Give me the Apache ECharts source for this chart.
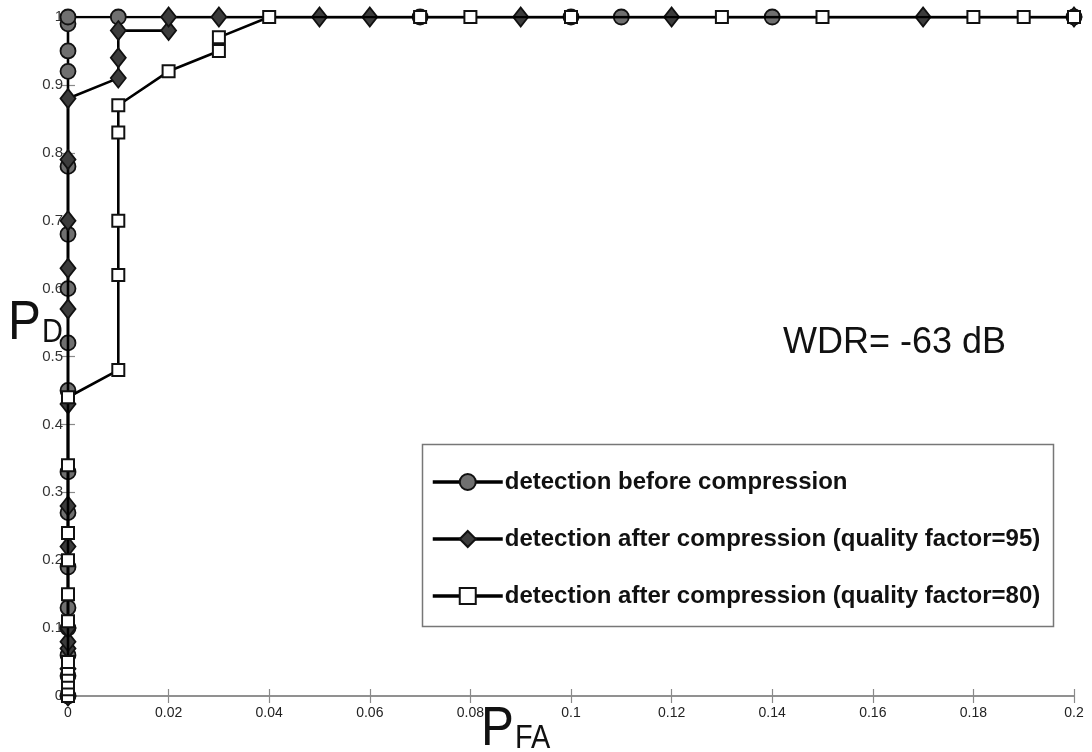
<!DOCTYPE html>
<html>
<head>
<meta charset="utf-8">
<script src="https://cdn.jsdelivr.net/npm/echarts@6/dist/echarts.min.js"></script>
<style>
html,body{margin:0;padding:0;background:#fff;}
#chart{width:1092px;height:752px;}
</style>
</head>
<body>
<div id="chart"></div>
<script>
const seriesNames = [
  'detection before compression',
  'detection after compression (quality factor=95)',
  'detection after compression (quality factor=80)'
];
const xTicks = [0, 0.02, 0.04, 0.06, 0.08, 0.1, 0.12, 0.14, 0.16, 0.18, 0.2];

const beforeX = [0,0,0,0,0,0,0,0,0,0,0,0,0,0,0,0,0, 0.01,0.07,0.10,0.11,0.14,0.20];
const beforeY = [0,0.03,0.06,0.10,0.13,0.19,0.27,0.33,0.45,0.52,0.60,0.68,0.78,0.92,0.95,0.99,1.00, 1,1,1,1,1,1];

const q95X = [0,0,0,0,0,0,0,0,0,0,0,0,0, 0.01,0.01,0.01,0.02,0.02,0.03,0.05,0.06,0.09,0.12,0.17,0.20];
const q95Y = [0,0.04,0.07,0.08,0.10,0.22,0.28,0.43,0.57,0.63,0.70,0.79,0.88, 0.91,0.94,0.98,0.98,1,1,1,1,1,1,1,1];

const q80X = [0,0,0,0,0,0,0,0,0,0,0,0, 0.01,0.01,0.01,0.01,0.01,0.02,0.03,0.03,0.04,0.07,0.08,0.10,0.13,0.15,0.18,0.19,0.20];
const q80Y = [0,0.01,0.02,0.03,0.04,0.05,0.11,0.15,0.20,0.24,0.34,0.44, 0.48,0.62,0.70,0.83,0.87,0.92,0.95,0.97,1,1,1,1,1,1,1,1,1];

const zip = (xs, ys) => xs.map((x, i) => [x, ys[i]]);

const chart = echarts.init(document.getElementById('chart'), null, {renderer: 'canvas'});
const sans = '"Liberation Sans", Arial, sans-serif';

const axisCommon = {
  min: 0,
  axisLine: {show: true, lineStyle: {color: '#8a8a8a', width: 1.5}},
  axisTick: {show: true, inside: true, length: 7, lineStyle: {color: '#8a8a8a', width: 1.2}},
  splitLine: {show: false}
};

const lineStyle = {color: '#000', width: 2.6};

chart.setOption({
  animation: false,
  backgroundColor: '#fff',
  grid: {left: 68, right: 18, top: 17, bottom: 56, containLabel: false},
  xAxis: [
    Object.assign({}, axisCommon, {
      type: 'value', max: 0.2, interval: 0.02, position: 'bottom',
      axisLabel: {color: '#222', fontFamily: sans, fontSize: 14, margin: 10,
        formatter: v => String(+v.toFixed(2))}
    }),
    Object.assign({}, axisCommon, {
      type: 'value', max: 0.2, interval: 0.02, position: 'top',
      axisLabel: {show: false}
    })
  ],
  yAxis: [
    Object.assign({}, axisCommon, {
      type: 'value', max: 1, interval: 0.1, position: 'left',
      axisLine: {show: true, lineStyle: {color: '#333', width: 1.5}},
      axisLabel: {color: '#333', fontFamily: sans, fontSize: 15, margin: 5,
        formatter: v => String(+v.toFixed(1))}
    }),
    Object.assign({}, axisCommon, {
      type: 'value', max: 1, interval: 0.1, position: 'right',
      axisLabel: {show: false}
    })
  ],
  legend: {
    orient: 'vertical',
    left: 431, top: 467,
    itemWidth: 70, itemHeight: 20, itemGap: 27,
    padding: 0,
    lineStyle: {width: 3.5},
    textStyle: {fontFamily: sans, fontSize: 24, fontWeight: 'bold', color: '#111',
      lineHeight: 30, padding: [0,0,0,-3]},
    data: seriesNames
  },
  graphic: [
    {type: 'rect', shape: {x: 422.5, y: 444.5, width: 631, height: 182},
      style: {fill: 'none', stroke: '#777', lineWidth: 1.5}, z: 0},
    {type: 'text', left: 783, top: 325, style: {text: 'WDR= -63 dB', font: '36px ' + sans, fill: '#111'}},
    {type: 'group', left: 8, top: 296, children: [
      {type: 'text', x: 0, y: 0, scaleX: 0.88, style: {text: 'P', font: '56px ' + sans, fill: '#111'}},
      {type: 'text', x: 34, y: 20, scaleX: 0.85, style: {text: 'D', font: '34px ' + sans, fill: '#111'}}
    ]},
    {type: 'group', left: 481, top: 702, children: [
      {type: 'text', x: 0, y: 0, scaleX: 0.88, style: {text: 'P', font: '56px ' + sans, fill: '#111'}},
      {type: 'text', x: 34, y: 20, scaleX: 0.85, style: {text: 'FA', font: '34px ' + sans, fill: '#111'}}
    ]}
  ],
  series: [
    {
      name: seriesNames[0], type: 'line', data: zip(beforeX, beforeY),
      symbol: 'circle', symbolSize: 15, showAllSymbol: true,
      lineStyle: lineStyle,
      itemStyle: {color: '#707070', borderColor: '#111', borderWidth: 1.8},
      z: 2
    },
    {
      name: seriesNames[1], type: 'line', data: zip(q95X, q95Y),
      symbol: 'diamond', symbolSize: [15, 19], showAllSymbol: true,
      lineStyle: lineStyle,
      itemStyle: {color: '#3c3c3c', borderColor: '#111', borderWidth: 1.8},
      z: 3
    },
    {
      name: seriesNames[2], type: 'line', data: zip(q80X, q80Y),
      symbol: 'rect', symbolSize: 12, showAllSymbol: true,
      lineStyle: lineStyle,
      itemStyle: {color: '#fff', borderColor: '#111', borderWidth: 2},
      z: 4
    }
  ]
});
</script>
</body>
</html>
